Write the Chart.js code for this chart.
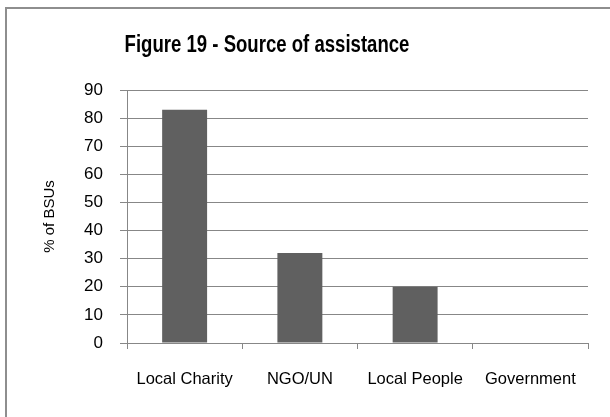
<!DOCTYPE html>
<html>
<head>
<meta charset="utf-8">
<script src="https://cdn.jsdelivr.net/npm/chart.js@4.4.1/dist/chart.umd.min.js"></script>
<style>
  html, body { margin: 0; padding: 0; background: #fff; overflow: hidden; }
  #frame {
    position: absolute; left: 5px; top: 7px; width: 700px; height: 500px;
    border-left: 2px solid #8e8e8e; border-top: 2px solid #8e8e8e;
  }
  #wrap { position: absolute; left: 0; top: 0; width: 610px; height: 417px; }
</style>
</head>
<body>
<div id="frame"></div>
<div id="wrap"><canvas id="assistChart"></canvas></div>
<script>
const sources = ['Local Charity', 'NGO/UN', 'Local People', 'Government'];
const percentBSUs = [83, 32, 20, 0];
const chartTitle = 'Figure 19 - Source of assistance';
const axisTitle = '% of BSUs';

const FONT = "'Liberation Sans', Arial, sans-serif";
const GRID = '#878787';

// title sits left of the plot centre and uses a narrow face, so it is drawn by hand
const titlePlugin = {
    id: 'figureTitle',
    afterDraw(chart) {
        const ctx = chart.ctx;
        ctx.save();
        ctx.translate(267, 52);
        ctx.scale(0.79, 1);
        ctx.font = 'bold 23.5px ' + FONT;
        ctx.fillStyle = '#000';
        ctx.textAlign = 'center';
        ctx.textBaseline = 'alphabetic';
        ctx.fillText(chartTitle, 0, 0);
        ctx.restore();
    }
};

new Chart(document.getElementById('assistChart'), {
    type: 'bar',
    data: {
        labels: sources,
        datasets: [{
            data: percentBSUs,
            backgroundColor: '#606060',
            borderWidth: 0,
            barPercentage: 0.39,
            categoryPercentage: 1
        }]
    },
    options: {
        responsive: true,
        maintainAspectRatio: false,
        animation: false,
        layout: { padding: { top: 90, right: 22, left: 0, bottom: 0 } },
        plugins: {
            legend: { display: false },
            tooltip: { enabled: false }
        },
        scales: {
            y: {
                min: 0,
                max: 90,
                ticks: { stepSize: 10, color: '#000', padding: 17, font: { family: FONT, size: 17 } },
                grid: { color: GRID, tickLength: 7, lineWidth: 1 },
                border: { color: GRID, width: 1 },
                title: {
                    display: true,
                    text: axisTitle,
                    color: '#000',
                    font: { family: FONT, size: 15 },
                    padding: { top: 41, bottom: 0 }
                },
                afterFit(scale) { scale.width = 127; }
            },
            x: {
                ticks: { color: '#000', padding: 21, font: { family: FONT, size: 16.5 }, maxRotation: 0 },
                grid: { offset: true, drawOnChartArea: false, color: GRID, tickLength: 6 },
                border: { color: GRID, width: 1 },
                afterFit(scale) { scale.height = 74; }
            }
        }
    },
    plugins: [titlePlugin]
});
</script>
</body>
</html>
